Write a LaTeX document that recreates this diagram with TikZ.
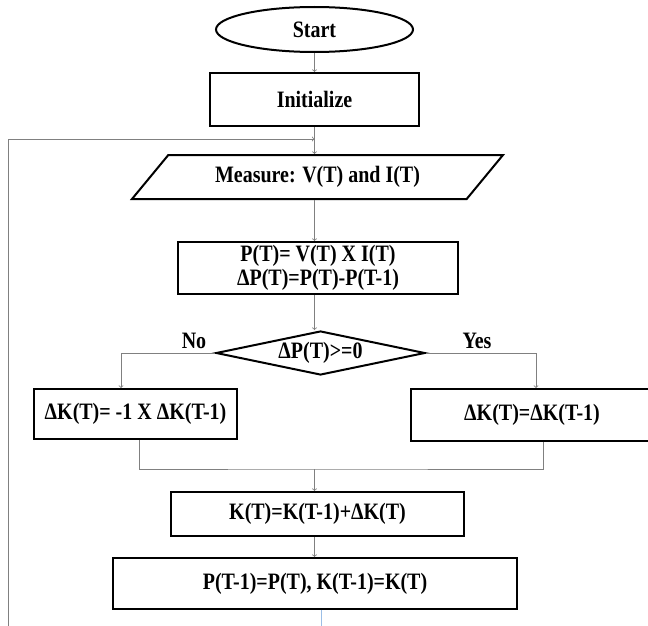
\documentclass[tikz,border=0pt]{standalone}
\usepackage{fontspec}
\setmainfont{Liberation Serif}[FakeStretch=0.85]
\usetikzlibrary{shapes.geometric}
\definecolor{linegray}{RGB}{128,128,128}
\definecolor{selblue}{RGB}{155,190,230}
\begin{document}
\begin{tikzpicture}[x=1pt,y=-1pt,every node/.style={draw,line width=2pt,inner sep=0pt,font=\bfseries\fontsize{23.5}{24}\selectfont}]
        \tikzset{edge/.style = {->,> = to,draw=linegray,line width=0.8pt}}
        \tikzset{wire/.style = {draw=linegray,line width=0.8pt}}
        \tikzset{lbl/.style = {draw=none}}
        \clip (0,0) rectangle (648,626);
        \node[ellipse,minimum width=197,minimum height=45] (S) at (314.5,29.5) {Start};
        \node[minimum width=209,minimum height=53] (I) at (314.5,99.5) {Initialize};
        \node[trapezium,trapezium stretches body,trapezium left angle=30.4,trapezium right angle=149.6,
              minimum width=371,minimum height=44] (M) at (317.5,177) {Measure: V(T) and I(T)};
        \node[minimum width=280,minimum height=52,align=center] (P) at (318,268) {P(T)= V(T) X I(T)\\ΔP(T)=P(T)-P(T-1)};
        \node[diamond,aspect=4.75,minimum width=209,minimum height=44] (D) at (320.5,353) {ΔP(T)>=0};
        \node[minimum width=203,minimum height=50] (L) at (135.5,414) {ΔK(T)= -1 X ΔK(T-1)};
        \node[minimum width=242,minimum height=52] (R) at (532,415) {ΔK(T)=ΔK(T-1)};
        \node[minimum width=293,minimum height=44] (K) at (317.5,514) {K(T)=K(T-1)+ΔK(T)};
        \node[minimum width=404,minimum height=51] (U) at (315,583.5) {P(T-1)=P(T), K(T-1)=K(T)};
        \node[lbl] (no) at (194,341) {No};
        \node[lbl] (yes) at (477,341) {Yes};
        \coordinate (back) at (8,640);
        \coordinate (inlet) at (314.5,139);
        \coordinate (J) at (314.5,469);
        \coordinate (tail) at (321,640);

        \draw[edge] (S) to (I);
        \draw[edge] (I.south) to (I.south |- M.north);
        \draw[edge] (back) |- (inlet);
        \draw[edge] (M.south -| I.south) to (P.north -| I.south);
        \draw[edge] (P.south -| I.south) to (D.north -| I.south);
        \draw[edge] (D.west) -| ([xshift=-14.5]L.north);
        \draw[edge] (D.east) -| ([xshift=4]R.north);
        \draw[wire] ([xshift=3.5]L.south) |- (J) -| ([xshift=11]R.south);
        \draw[edge] (J) to (J |- K.north);
        \draw[edge] (K.south -| J) to (U.north -| J);
        \draw[selblue,line width=0.6pt] (U.south -| tail) to (tail);
\end{tikzpicture}
\end{document}
